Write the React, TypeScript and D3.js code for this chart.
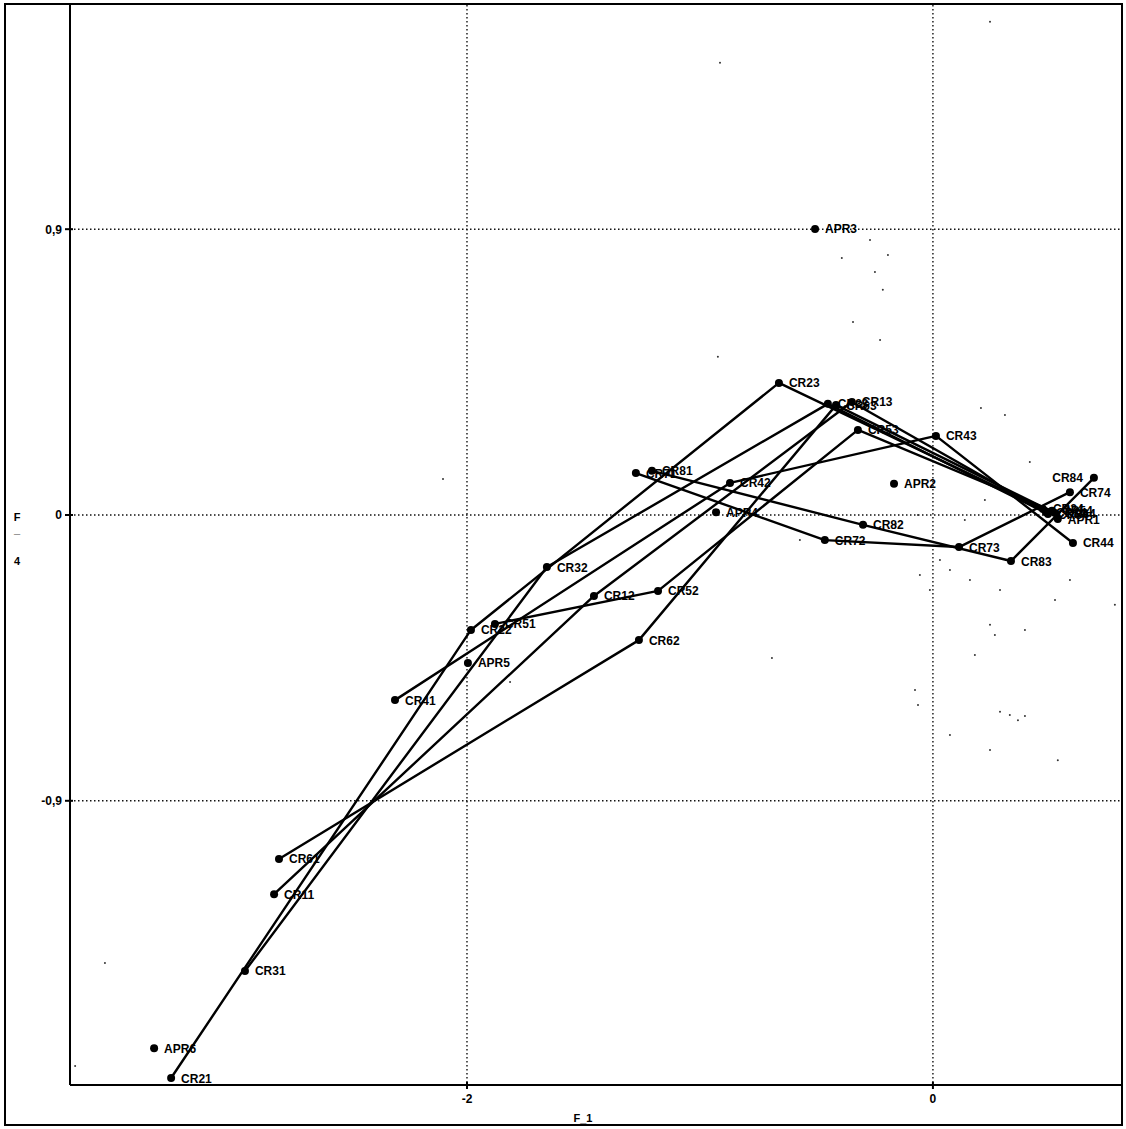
import React from "react";
import * as d3 from "d3";

// Modalities (name, F1, F4)
const crNames = [
  "CR11", "CR12", "CR13", "CR14",
  "CR21", "CR22", "CR23", "CR24",
  "CR31", "CR32", "CR33", "CR34",
  "CR41", "CR42", "CR43", "CR44",
  "CR51", "CR52", "CR53", "CR54",
  "CR61", "CR62", "CR63", "CR64",
  "CR71", "CR72", "CR73", "CR74",
  "CR81", "CR82", "CR83", "CR84",
];
const crF1 = [
  -2.828, -1.455, -0.348, 0.485,
  -3.270, -1.983, -0.661, 0.472,
  -2.953, -1.657, -0.451, 0.494,
  -2.309, -0.871, 0.013, 0.601,
  -1.880, -1.180, -0.322, 0.511,
  -2.807, -1.262, -0.416, 0.524,
  -1.275, -0.464, 0.112, 0.588,
  -1.206, -0.300, 0.335, 0.691,
];
const crF4 = [
  -1.194, -0.255, 0.356, 0.009,
  -1.773, -0.362, 0.416, 0.019,
  -1.436, -0.164, 0.350, 0.003,
  -0.583, 0.101, 0.249, -0.088,
  -0.343, -0.239, 0.268, 0.013,
  -1.083, -0.394, 0.346, 0.006,
  0.132, -0.079, -0.101, 0.072,
  0.139, -0.031, -0.145, 0.117,
];

const aprNames = ["APR1", "APR2", "APR3", "APR4", "APR5", "APR6"];
const aprF1 = [0.536, -0.167, -0.506, -0.931, -1.996, -3.343];
const aprF4 = [-0.013, 0.098, 0.901, 0.009, -0.466, -1.679];

const criteria = [1, 2, 3, 4, 5, 6, 7, 8];
const levels = [1, 2, 3, 4];

// individuals (small dots)
const indF1 = [
  -0.914, 0.245, -2.103, -0.391, -0.270, -0.249, -0.193, -0.215, -0.343, -0.227,
  -0.923, 0.206, 0.309, 0.416, -0.159, -0.064, 0.030, -0.056, 0.073, -0.013,
  0.159, 0.288, 0.245, 0.266, 0.395, 0.524, 0.781, -0.077, -0.064, 0.073,
  0.180, 0.245, 0.288, 0.330, 0.365, 0.395, 0.536, -0.691, -1.815, -3.554,
  -3.682, -0.571, 0.588, 0.137, 0.223,
];
const indF4 = [
  1.424, 1.553, 0.113, 0.809, 0.866, 0.765, 0.819, 0.709, 0.608, 0.551,
  0.498, 0.337, 0.315, 0.167, -0.028, 0.000, -0.142, -0.189, -0.173, -0.236,
  -0.205, -0.236, -0.346, -0.378, -0.362, -0.268, -0.283, -0.551, -0.598, -0.693,
  -0.441, -0.740, -0.620, -0.630, -0.646, -0.633, -0.772, -0.450, -0.526, -1.411,
  -1.735, -0.079, -0.205, -0.016, 0.047,
];

const xTicks = [-2, 0];
const yTicks = [0.9, 0, -0.9];
const xTitle = "F_1";
const yTitle = ["F", "_", "4"];

const leftLabeled = new Set(["CR84"]);

const W = 1126;
const H = 1129;
const plot = { left: 70, right: 1120, top: 5, bottom: 1085 };

export default function App() {
  const x = d3.scaleLinear().domain([-3.704, 0.803]).range([plot.left, plot.right]);
  const y = d3.scaleLinear().domain([-1.795, 1.606]).range([plot.bottom, plot.top]);
  const fmt = (v: number) => String(v).replace(".", ",");

  const pos: Record<string, [number, number]> = {};
  crNames.forEach((n, i) => (pos[n] = [crF1[i], crF4[i]]));

  const line = d3
    .line<[number, number]>()
    .x((d) => x(d[0]))
    .y((d) => y(d[1]));

  const font = "'Liberation Sans', Arial, sans-serif";
  const allPts = [
    ...crNames.map((n, i) => ({ name: n, fx: crF1[i], fy: crF4[i] })),
    ...aprNames.map((n, i) => ({ name: n, fx: aprF1[i], fy: aprF4[i] })),
  ];

  return (
    <svg
      width={W}
      height={H}
      style={{ position: "absolute", left: 0, top: 0, display: "block", background: "#fff" }}
    >
      <rect x={0} y={0} width={W} height={H} fill="#fff" />
      {/* grid */}
      {xTicks.map((t) => (
        <line key={"gx" + t} x1={x(t)} x2={x(t)} y1={plot.top} y2={plot.bottom}
          stroke="#111" strokeWidth={1.4} strokeDasharray="1.5,2.5" />
      ))}
      {yTicks.map((t) => (
        <line key={"gy" + t} x1={plot.left} x2={plot.right} y1={y(t)} y2={y(t)}
          stroke="#111" strokeWidth={1.4} strokeDasharray="1.5,2.5" />
      ))}
      {/* individuals */}
      {indF1.map((v, i) => (
        <circle key={"ind" + i} cx={x(v)} cy={y(indF4[i])} r={1} fill="#333" />
      ))}
      {/* trajectories */}
      {criteria.map((c) => {
        const pts = levels.map((l) => pos["CR" + c + l]);
        return (
          <path key={"tr" + c} d={line(pts) || ""} fill="none" stroke="#000"
            strokeWidth={2.4} strokeLinejoin="round" />
        );
      })}
      {/* points */}
      {allPts.map((p) => (
        <circle key={"p" + p.name} cx={x(p.fx)} cy={y(p.fy)} r={4} fill="#000" />
      ))}
      {allPts.map((p) => {
        const left = leftLabeled.has(p.name);
        return (
          <text key={"l" + p.name} x={x(p.fx) + (left ? -11 : 10)} y={y(p.fy) + 4.5}
            textAnchor={left ? "end" : "start"} fontFamily={font} fontSize={12}
            fontWeight="bold" fill="#000">
            {p.name}
          </text>
        );
      })}
      {/* axes */}
      <line x1={plot.left} x2={plot.left} y1={plot.top} y2={plot.bottom} stroke="#000" strokeWidth={2} />
      <line x1={plot.left} x2={plot.right + 2} y1={plot.bottom} y2={plot.bottom} stroke="#000" strokeWidth={2} />
      {xTicks.map((t) => (
        <g key={"xt" + t}>
          <line x1={x(t)} x2={x(t)} y1={plot.bottom - 3} y2={plot.bottom + 4} stroke="#000" strokeWidth={2} />
          <text x={x(t)} y={plot.bottom + 18} textAnchor="middle" fontFamily={font}
            fontSize={12} fontWeight="bold">{fmt(t)}</text>
        </g>
      ))}
      {yTicks.map((t) => (
        <g key={"yt" + t}>
          <line x1={plot.left - 5} x2={plot.left + 3} y1={y(t)} y2={y(t)} stroke="#000" strokeWidth={2} />
          <text x={plot.left - 8} y={y(t) + 4.5} textAnchor="end" fontFamily={font}
            fontSize={12} fontWeight="bold">{fmt(t)}</text>
        </g>
      ))}
      <text x={583} y={1122} textAnchor="middle" fontFamily={font} fontSize={11} fontWeight="bold">{xTitle}</text>
      {yTitle.map((s, i) => (
        <text key={"yt" + i} x={17} y={[521, 533, 565][i]} textAnchor="middle" fontFamily={font}
          fontSize={11} fontWeight="bold">{s}</text>
      ))}
      {/* outer frame */}
      <rect x={5} y={4} width={1117} height={1121} fill="none" stroke="#000" strokeWidth={2} />
    </svg>
  );
}
